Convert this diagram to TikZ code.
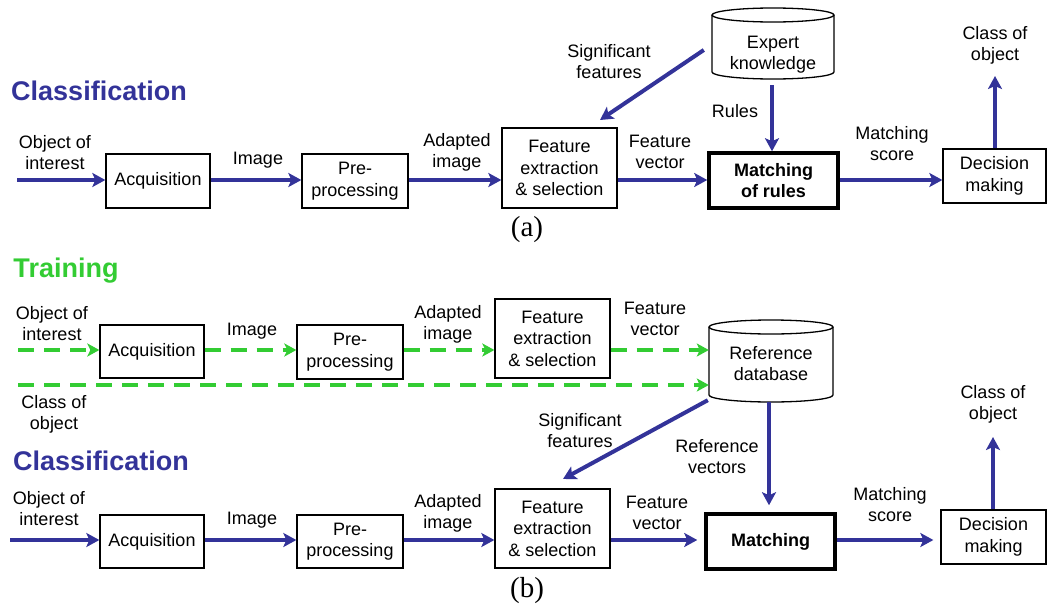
\documentclass[tikz,border=0pt]{standalone}
\usepackage{fontspec}
\setmainfont{Liberation Sans}
\newfontfamily\serifcap{Liberation Serif}
\usetikzlibrary{arrows.meta,calc}
\definecolor{myblue}{RGB}{51,51,153}
\definecolor{mygreen}{RGB}{51,204,51}
\begin{document}
\begin{tikzpicture}[x=1pt,y=-1pt,
 lab/.style={font=\fontsize{18}{21}\selectfont, align=center, inner sep=0},
 box/.style={draw, line width=1.3pt, fill=white, align=center, font=\fontsize{18}{21.5}\selectfont, inner sep=0},
 thickbox/.style={box, line width=3.5pt, font=\fontsize{18}{21.5}\selectfont\bfseries},
 flow/.style={draw=myblue, line width=4pt, -{Stealth[length=13pt,width=14pt,inset=3pt]}},
 train/.style={draw=mygreen, line width=4pt, dash pattern=on 16pt off 10pt, -{Stealth[length=12pt,width=13pt,inset=3pt]}},
 title/.style={font=\fontsize{27}{30}\selectfont\bfseries, inner sep=0},
 captxt/.style={font=\serifcap\fontsize{29}{31}\selectfont, inner sep=0},
 cyl/.style={draw, line width=1.3pt, fill=white}
]
\useasboundingbox (0,0) rectangle (1049,608);

% ================= Panel (a) =================
\node[title, text=myblue] (clsTitleA) at (99,91) {Classification};

\node[box, minimum width=104, minimum height=54] (acqA) at (158,181) {Acquisition};
\node[box, minimum width=106, minimum height=54] (preA) at (355,181) {Pre-\\processing};
\node[box, minimum width=115, minimum height=80] (featA) at (559.5,168) {Feature\\extraction\\\& selection};
\node[thickbox, minimum width=129, minimum height=55] (matchA) at (773.5,180.5) {Matching\\of rules};
\node[box, minimum width=103, minimum height=54] (decA) at (994.5,176) {Decision\\making};

% expert knowledge cylinder
\filldraw[cyl] (712,15) -- (712,72) arc[start angle=180,end angle=0,x radius=61,y radius=7] -- (834,15);
\filldraw[cyl] (773,15) ellipse[x radius=61, y radius=7];
\node[lab, minimum width=122, minimum height=48] (ek) at (773,55) {Expert\\knowledge};

% labels
\node[lab] (lobjA) at (55,153) {Object of\\interest};
\node[lab] (limgA) at (258,160) {Image};
\node[lab] (ladA) at (457,152) {Adapted\\image};
\node[lab] (lfvA) at (660,152) {Feature\\vector};
\node[lab] (lmsA) at (892,144) {Matching\\score};
\node[lab] (lclsA) at (995,45) {Class of\\object};
\node[lab] (lrules) at (735,111) {Rules};
\node[lab] (lsigA) at (609,62) {Significant\\features};

% connectors
\coordinate (inA) at (17,180);
\coordinate (outA) at (995,76);
\coordinate (sigEndA) at (600,120);
\draw[flow] (inA) -- (inA -| acqA.west);
\draw[flow] (acqA.east |- inA) -- (inA -| preA.west);
\draw[flow] (preA.east |- inA) -- (inA -| featA.west);
\draw[flow] (featA.east |- inA) -- (inA -| matchA.west);
\draw[flow] (matchA.east |- inA) -- (inA -| decA.west);
\draw[flow] (decA.north -| outA) -- (outA);
\draw[flow] ([yshift=-6pt]ek.south -| 772,0) -- (matchA.north -| 772,0);
\draw[flow] ([xshift=-8pt,yshift=5pt]ek.west) -- (sigEndA);

\node[captxt] (capA) at (527,230) {(a)};

% ================= Panel (b) =================
\node[title, text=mygreen] (trainTitle) at (66,271) {Training};

\node[box, minimum width=104, minimum height=53] (acqB) at (152,351.5) {Acquisition};
\node[box, minimum width=106, minimum height=54] (preB) at (350,352) {Pre-\\processing};
\node[box, minimum width=115, minimum height=79] (featB) at (552.5,338.5) {Feature\\extraction\\\& selection};

% reference database cylinder
\filldraw[cyl] (709,327) -- (709,395) arc[start angle=180,end angle=0,x radius=62,y radius=7] -- (833,327);
\filldraw[cyl] (771,327) ellipse[x radius=62, y radius=7];
\node[lab, minimum width=124, minimum height=76] (refdb) at (771,364) {Reference\\database};

\node[lab] (lobjB) at (52,324) {Object of\\interest};
\node[lab] (limgB) at (252,331) {Image};
\node[lab] (ladB) at (448,324) {Adapted\\image};
\node[lab] (lfvB) at (655,319) {Feature\\vector};
\node[lab] (lclsobjB) at (54,414) {Class of\\object};

\coordinate (inB) at (18,350);
\coordinate (inC) at (18,385);
\draw[train] (inB) -- (inB -| acqB.west);
\draw[train] (acqB.east |- inB) -- (inB -| preB.west);
\draw[train] (preB.east |- inB) -- (inB -| featB.west);
\draw[train] (featB.east |- inB) -- (inB -| refdb.west);
\draw[train] (inC) -- (inC -| refdb.west);

\node[title, text=myblue] (clsTitleB) at (101,461) {Classification};

\node[box, minimum width=104, minimum height=53] (acqB2) at (152,541.5) {Acquisition};
\node[box, minimum width=106, minimum height=53] (preB2) at (350,541.5) {Pre-\\processing};
\node[box, minimum width=115, minimum height=79] (featB2) at (552.5,528.5) {Feature\\extraction\\\& selection};
\node[thickbox, minimum width=129, minimum height=55] (matchB) at (770.5,541.5) {Matching};
\node[box, minimum width=105, minimum height=54] (decB) at (993.5,537) {Decision\\making};

\node[lab] (lobjB2) at (49,509) {Object of\\interest};
\node[lab] (limgB2) at (252,520) {Image};
\node[lab] (ladB2) at (448,513) {Adapted\\image};
\node[lab] (lfvB2) at (657,513) {Feature\\vector};
\node[lab] (lmsB) at (890,505) {Matching\\score};
\node[lab] (lclsB) at (993,404) {Class of\\object};
\node[lab] (lrefvec) at (717,457) {Reference\\vectors};
\node[lab] (lsigB) at (580,431) {Significant\\features};

\coordinate (inD) at (10,540);
\coordinate (outB) at (993,437);
\coordinate (sigEndB) at (563,479);
\draw[flow] (inD) -- (inD -| acqB2.west);
\draw[flow] (acqB2.east |- inD) -- (inD -| preB2.west);
\draw[flow] (preB2.east |- inD) -- (inD -| featB2.west);
\draw[flow, shorten >=7pt] (featB2.east |- inD) -- (inD -| matchB.west);
\draw[flow, shorten >=7pt] (matchB.east |- inD) -- (inD -| decB.west);
\draw[flow] (decB.north -| outB) -- (outB);
\draw[flow, shorten >=7pt] (refdb.south -| 769,0) -- (matchB.north -| 769,0);
\draw[flow] ([xshift=-1pt,yshift=2pt]refdb.south west) -- (sigEndB);

\node[captxt] (capB) at (527,591) {(b)};
\end{tikzpicture}
\end{document}
